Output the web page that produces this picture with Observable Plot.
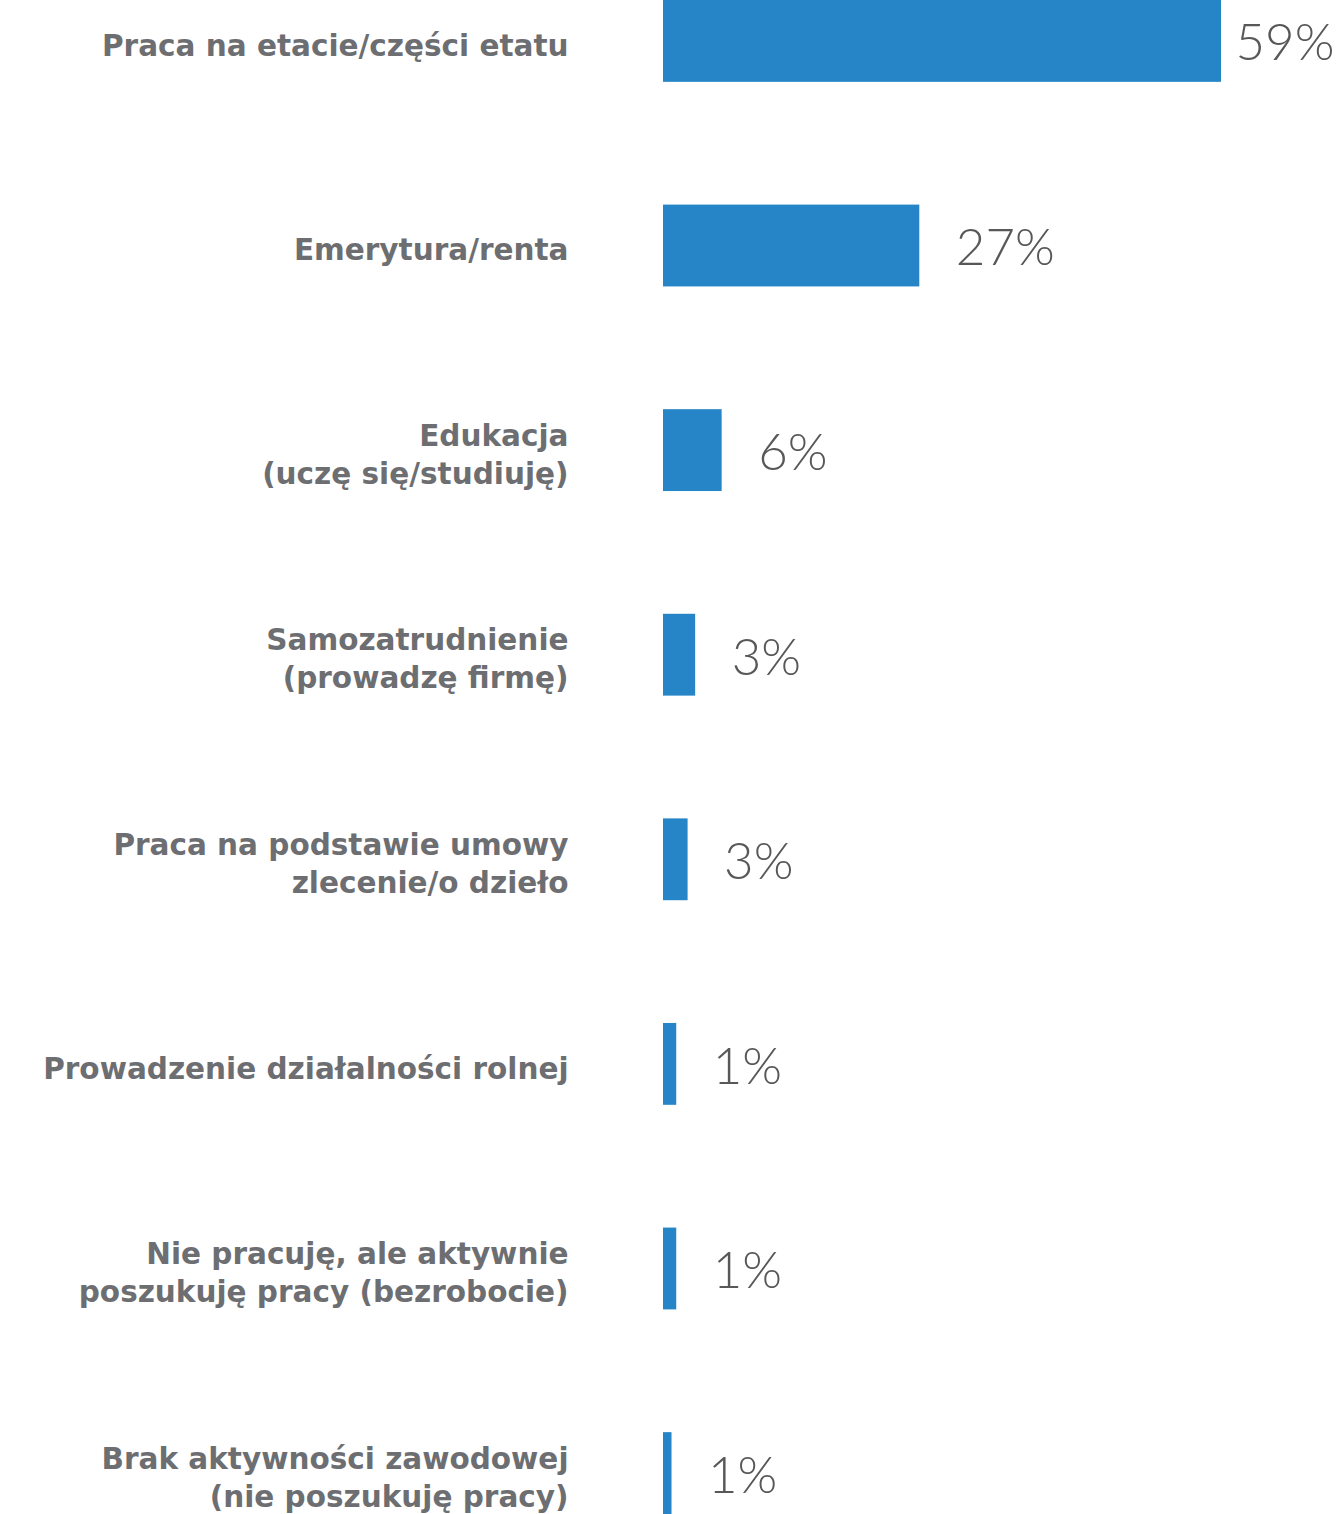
<!DOCTYPE html>
<html>
<head>
<meta charset="utf-8">
<script src="https://cdn.jsdelivr.net/npm/d3@7"></script>
<script src="https://cdn.jsdelivr.net/npm/@observablehq/plot@0.6"></script>
<style>
  html, body { margin: 0; padding: 0; background: #ffffff; }
  #chart svg { display: block; }
</style>
</head>
<body>
<div id="chart"></div>
<script>
const categories = [
  "Praca na etacie/części etatu",
  "Emerytura/renta",
  "Edukacja\n(uczę się/studiuję)",
  "Samozatrudnienie\n(prowadzę firmę)",
  "Praca na podstawie umowy\nzlecenie/o dzieło",
  "Prowadzenie działalności rolnej",
  "Nie pracuję, ale aktywnie\nposzukuję pracy (bezrobocie)",
  "Brak aktywności zawodowej\n(nie poszukuję pracy)"
];
const values = [59, 27.1, 6.2, 3.4, 2.6, 1.4, 1.4, 0.9];
const valueLabels = ["59%", "27%", "6%", "3%", "3%", "1%", "1%", "1%"];

const data = categories.map((c, i) => ({category: c, value: values[i], label: valueLabels[i], first: i === 0}));
const maxV = d3.max(values);

const chart = Plot.plot({
  width: 1338,
  height: 1514,
  marginLeft: 663,
  marginRight: 117,
  marginTop: 0,
  marginBottom: 0,
  style: {background: "#ffffff"},
  x: {domain: [0, maxV], axis: null},
  y: {domain: categories, padding: 0.6, paddingOuter: 0, round: false, label: null},
  marks: [
    Plot.barX(data, {y: "category", x: "value", fill: "#2585c7"}),
    Plot.axisY({
      tickSize: 0,
      tickPadding: 95,
      fontSize: 29.5,
      fontWeight: 700,
      fontFamily: "DejaVu Sans",
      fill: "#6d6e71",
      lineHeight: 1.29,
      dy: 2,
      label: null
    }),
    Plot.text(data.filter(d => !d.first), {
      y: "category", x: "value", text: "label",
      textAnchor: "start", dx: 36, dy: 3,
      fontSize: 51, fontWeight: 300, fontFamily: "Lato", fill: "#58585a"
    }),
    Plot.text(data.filter(d => d.first), {
      y: "category", x: "value", text: "label",
      textAnchor: "start", dx: 14, dy: 2,
      fontSize: 51, fontWeight: 300, fontFamily: "Lato", fill: "#58585a"
    })
  ]
});
document.getElementById("chart").appendChild(chart);
</script>
</body>
</html>
